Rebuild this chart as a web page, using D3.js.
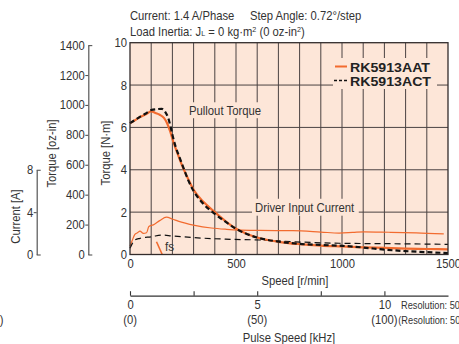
<!DOCTYPE html>
<html><head><meta charset="utf-8">
<script src="https://cdn.jsdelivr.net/npm/d3@7"></script>
<style>body{margin:0;background:#fff} svg{display:block}</style>
</head><body>
<svg id="c" width="459" height="344"></svg>
<script>
// ---------- data ----------
const speedTicks = [0, 500, 1000, 1500];
const torqueNmTicks = [0, 2, 4, 6, 8, 10];
const torqueOzTicks = [0, 200, 400, 600, 800, 1000, 1200, 1400];
const currentTicks = [0, 4, 8];
const pulseTicks = [0, 2.5, 5, 7.5, 10];
const pulseLabels = {0: "0", 5: "5", 10: "10"};
const pulseLabels2 = {0: "(0)", 5: "(50)", 10: "(100)"};
const seriesNames = ["RK5913AAT", "RK5913ACT"];

// pullout torque [r/min, N·m]
const pulloutAAT = [[0,6.2],[25,6.35],[50,6.5],[75,6.62],[100,6.76],[120,6.68],[140,6.6],[160,6.45],[175,6.2],[190,5.8],[205,5.3],[225,4.75],[250,4.1],[275,3.55],[300,3.05],[350,2.45],[400,2.0],[450,1.58],[500,1.22],[550,0.98],[600,0.8],[700,0.6],[800,0.49],[900,0.42],[1000,0.38],[1100,0.34],[1200,0.31],[1300,0.28],[1400,0.26],[1500,0.24]];
const pulloutACT = [[0,6.2],[25,6.36],[50,6.52],[75,6.66],[100,6.82],[125,6.86],[150,6.88],[165,6.75],[180,6.45],[190,6.1],[200,5.65],[215,5.1],[235,4.55],[250,4.15],[275,3.5],[300,3.0],[350,2.35],[400,1.92],[450,1.55],[500,1.22],[550,0.97],[600,0.8],[700,0.61],[800,0.5],[900,0.45],[1000,0.41],[1100,0.33],[1200,0.23],[1300,0.16],[1400,0.11],[1500,0.07]];
// driver input current [r/min, A]
const currentAAT = [[0,0.8],[10,1.3],[23,1.9],[35,2.05],[47,2.2],[63,2.0],[78,2.05],[89,2.65],[110,2.8],[140,3.2],[172,3.52],[200,3.35],[227,3.15],[305,2.75],[384,2.5],[455,2.38],[611,2.27],[767,2.25],[900,2.12],[987,2.02],[1050,2.08],[1105,2.14],[1222,2.1],[1350,2.05],[1480,1.95]];
const currentACT = [[0,0.6],[10,1.0],[23,1.37],[47,1.53],[102,1.68],[149,1.84],[200,1.75],[337,1.55],[450,1.45],[611,1.37],[775,1.2],[987,1.06],[1222,1.02],[1500,0.96]];
// fs marker [r/min, N·m]
const fsMark = [[125,0.6],[152,0]];

// ---------- layout ----------
const svg = d3.select("#c");
const L = 130, R = 448, TOP = 42.7, BOT = 254.5;
const BG = "#fde6d8", GRID = "#4a4242", ORANGE = "#f26b2f", TXT = "#333";
const FONT = "Liberation Sans, Arial, Helvetica, sans-serif";
const FS = 12.5, SX = 0.9;
const x = d3.scaleLinear([0, 1500], [L, R]);
const y = d3.scaleLinear([0, 10], [BOT, TOP]);
const yOz = d3.scaleLinear([0, 1400], [BOT, y(1400 / 141.612)]);
const yA = d3.scaleLinear([0, 8], [BOT, y(4)]);
const xPulse = d3.scaleLinear([0, 12.5], [L, R]);

function T(g, px, py, s, o = {}) {
  const size = o.size || FS, sx = o.sx || SX;
  const t = g.append("text")
    .attr("transform", `translate(${px},${py})${o.rot ? ` rotate(${o.rot})` : ""} scale(${sx},1)`)
    .attr("font-size", size).attr("text-anchor", o.anchor || "start")
    .attr("font-weight", o.weight || "normal").attr("fill", o.fill || TXT)
    .attr("font-family", FONT);
  if (s != null) t.text(s);
  return t;
}

// plot background and grid
svg.append("rect").attr("x", L).attr("y", TOP).attr("width", R - L).attr("height", BOT - TOP).attr("fill", BG);
const grid = svg.append("g").attr("stroke", GRID).attr("stroke-width", 1);
grid.selectAll(".v").data(d3.range(100, 1500, 100)).join("line")
  .attr("x1", d => x(d)).attr("x2", d => x(d)).attr("y1", TOP).attr("y2", BOT);
grid.selectAll(".h").data([2, 4, 6, 8]).join("line")
  .attr("x1", L).attr("x2", R).attr("y1", d => y(d)).attr("y2", d => y(d));

// in-plot labels with knockout
function knockLabel(px, py, s, pad) {
  const g = svg.append("g");
  const r = g.append("rect").attr("fill", BG);
  const t = T(g, px, py, s, {size: 13, sx: 0.87});
  const b = t.node().getBoundingClientRect();
  r.attr("x", b.x - pad[0]).attr("y", b.y - pad[1]).attr("width", b.width + pad[0] + pad[2]).attr("height", b.height + pad[1] + pad[3]);
}
knockLabel(189, 115, "Pullout Torque", [3, 1, 3, 0]);
knockLabel(255, 211.5, "Driver Input Current", [3, 1, 4, 1]);

// legend
const lg = svg.append("g");
lg.append("rect").attr("x", 333).attr("y", 58).attr("width", 104).attr("height", 31).attr("fill", BG);
lg.append("line").attr("x1", 335).attr("x2", 347).attr("y1", 66.5).attr("y2", 66.5).attr("stroke", ORANGE).attr("stroke-width", 2);
lg.append("line").attr("x1", 334).attr("x2", 347).attr("y1", 80.5).attr("y2", 80.5).attr("stroke", "#111").attr("stroke-width", 1.6).attr("stroke-dasharray", "3,2");
T(lg, 350, 71.5, seriesNames[0], {size: 13, sx: 1.09, weight: "bold", fill: "#222"});
T(lg, 350, 85.5, seriesNames[1], {size: 13, sx: 1.09, weight: "bold", fill: "#222"});

// curves
const lineT = d3.line().x(d => x(d[0])).y(d => y(d[1])).curve(d3.curveMonotoneX);
const lineA = d3.line().x(d => x(d[0])).y(d => yA(d[1])).curve(d3.curveMonotoneX);
svg.append("path").attr("d", lineA(currentAAT)).attr("fill", "none").attr("stroke", ORANGE).attr("stroke-width", 1.2);
svg.append("path").attr("d", lineA(currentACT)).attr("fill", "none").attr("stroke", "#111").attr("stroke-width", 1.2).attr("stroke-dasharray", "6,4");
svg.append("path").attr("d", lineT(pulloutAAT)).attr("fill", "none").attr("stroke", ORANGE).attr("stroke-width", 2.2);
svg.append("path").attr("d", lineT(pulloutACT)).attr("fill", "none").attr("stroke", "#111").attr("stroke-width", 2.2).attr("stroke-dasharray", "5,3");
svg.append("path").attr("d", d3.line().x(d => x(d[0])).y(d => y(d[1]))(fsMark)).attr("fill", "none").attr("stroke", ORANGE).attr("stroke-width", 1.6);
T(svg, 165, 251, "fs", {size: 13});

// border
svg.append("rect").attr("x", L).attr("y", TOP).attr("width", R - L).attr("height", BOT - TOP)
  .attr("fill", "none").attr("stroke", "#332c2c").attr("stroke-width", 1.3);

// axis styling helper
const fmt = d3.format("d");
function styleAxis(g) {
  g.selectAll(".domain").attr("stroke", "#555").attr("stroke-width", 1.2);
  g.selectAll(".tick line").attr("stroke", "#555").attr("stroke-width", 1.1);
  g.selectAll(".tick text").attr("font-size", FS).attr("fill", TXT).attr("font-family", FONT)
    .attr("transform", `scale(${SX},1)`);
}

// N·m axis (labels only)
const gNm = svg.append("g").attr("transform", `translate(${L},0)`)
  .call(d3.axisLeft(y).tickValues(torqueNmTicks).tickFormat(fmt).tickSize(0).tickPadding(3));
gNm.select(".domain").remove();
styleAxis(gNm);
gNm.selectAll(".tick text").attr("x", -3 / SX);

// oz-in axis
const gOz = svg.append("g").attr("transform", "translate(88.3,0)")
  .call(d3.axisLeft(yOz).tickValues(torqueOzTicks).tickFormat(fmt).tickSize(3).tickSizeOuter(0).tickPadding(0.5));
styleAxis(gOz);
gOz.selectAll(".tick text").attr("x", -3.5 / SX);
gOz.selectAll(".tick").filter(d => d === 0 || d === 1400).select("line").attr("x2", 4);

// current axis
const gA = svg.append("g").attr("transform", "translate(36.7,0)")
  .call(d3.axisLeft(yA).tickValues(currentTicks).tickFormat(fmt).tickSize(3).tickSizeOuter(0).tickPadding(0.5));
styleAxis(gA);
gA.selectAll(".tick text").attr("x", -3.5 / SX);
gA.selectAll(".tick").filter(d => d === 0 || d === 8).select("line").attr("x2", 4);

// speed axis (labels only)
const gS = svg.append("g").attr("transform", `translate(0,${BOT})`)
  .call(d3.axisBottom(x).tickValues(speedTicks).tickFormat(fmt).tickSize(0).tickPadding(4.5));
gS.select(".domain").remove();
styleAxis(gS);

// pulse speed axis
const gP = svg.append("g").attr("transform", "translate(0,295.7)")
  .call(d3.axisBottom(xPulse).tickValues(pulseTicks).tickSize(-4.5).tickSizeOuter(0).tickPadding(4.8)
    .tickFormat(d => pulseLabels[d] || ""));
styleAxis(gP);
gP.selectAll(".domain").attr("stroke", "#333").attr("stroke-width", 1.3);
gP.selectAll(".tick line").attr("stroke", "#333");
Object.keys(pulseLabels2).forEach(k => T(svg, xPulse(+k), 323.5, pulseLabels2[k], {anchor: "middle"}));

// axis titles
T(svg, 109.5, 153, "Torque [N·m]", {rot: -90, anchor: "middle"});
T(svg, 55.5, 153.5, "Torque [oz-in]", {rot: -90, anchor: "middle"});
T(svg, 19.5, 216.5, "Current [A]", {rot: -90, anchor: "middle"});
T(svg, 295, 285, "Speed [r/min]", {anchor: "middle"});
T(svg, 289, 342, "Pulse Speed [kHz]", {anchor: "middle"});
T(svg, 401, 309, "Resolution: 500", {size: 10.5, sx: 0.88});
T(svg, 398.3, 324, "(Resolution: 5000)", {size: 10.5, sx: 0.88});
T(svg, 3.5, 324, ")", {anchor: "end"});

// titles
T(svg, 130, 20, "Current: 1.4 A/Phase");
T(svg, 250, 20, "Step Angle: 0.72°/step");
const t2 = T(svg, 130, 36, null);
t2.append("tspan").text("Load Inertia: J");
t2.append("tspan").attr("font-size", 8).text("L");
t2.append("tspan").text(" = 0 kg·m");
t2.append("tspan").attr("font-size", 8).attr("dy", -4.5).text("2");
t2.append("tspan").attr("dy", 4.5).text(" (0 oz-in");
t2.append("tspan").attr("font-size", 8).attr("dy", -4.5).text("2");
t2.append("tspan").attr("dy", 4.5).text(")");
</script>
</body></html>
